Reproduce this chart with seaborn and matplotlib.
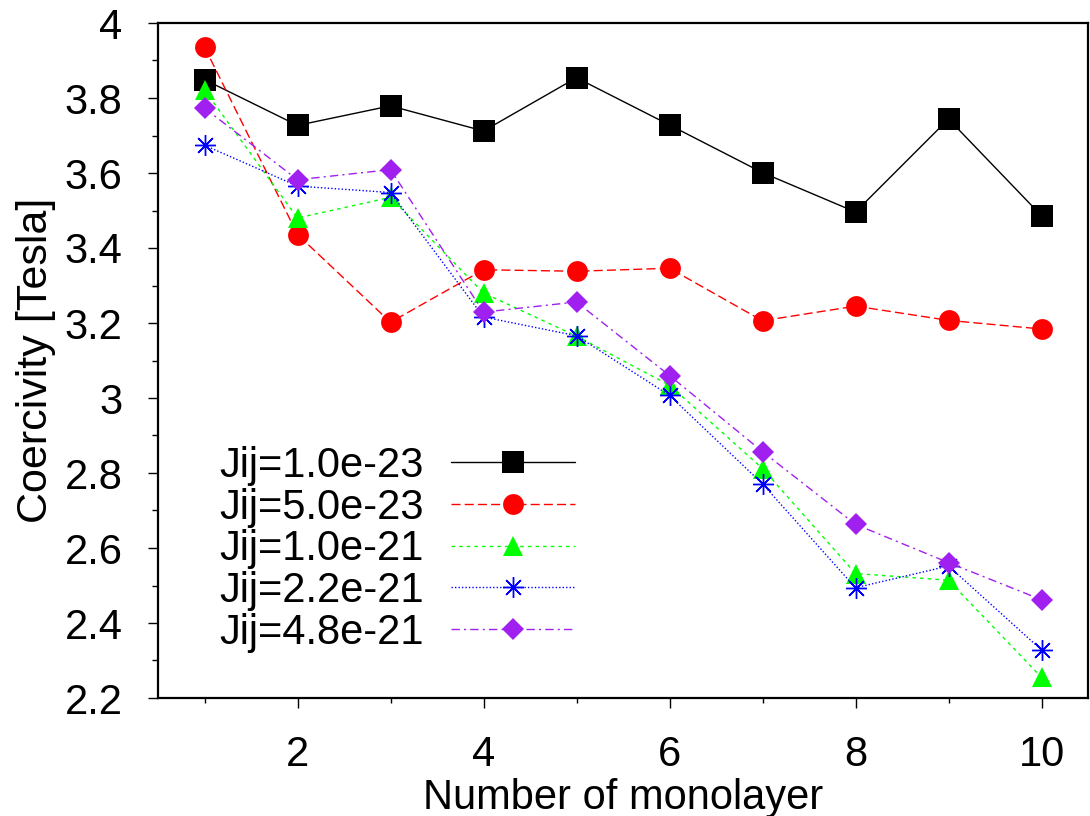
import numpy as np
import pandas as pd
import matplotlib
matplotlib.use("Agg")
import matplotlib.pyplot as plt
from matplotlib.ticker import MultipleLocator, FuncFormatter
import seaborn as sns

# ---- data ----
monolayers = [1, 2, 3, 4, 5, 6, 7, 8, 9, 10]
labels = ["Jij=1.0e-23", "Jij=5.0e-23", "Jij=1.0e-21", "Jij=2.2e-21", "Jij=4.8e-21"]
jij_1_0e23 = [3.849, 3.727, 3.779, 3.712, 3.854, 3.728, 3.601, 3.496, 3.744, 3.486]
jij_5_0e23 = [3.936, 3.436, 3.202, 3.342, 3.338, 3.346, 3.206, 3.245, 3.207, 3.184]
jij_1_0e21 = [3.821, 3.480, 3.535, 3.280, 3.165, 3.034, 2.812, 2.532, 2.514, 2.255]
jij_2_2e21 = [3.674, 3.565, 3.548, 3.216, 3.166, 3.007, 2.771, 2.494, 2.552, 2.328]
jij_4_8e21 = [3.773, 3.582, 3.609, 3.229, 3.256, 3.060, 2.857, 2.663, 2.561, 2.462]
series = [jij_1_0e23, jij_5_0e23, jij_1_0e21, jij_2_2e21, jij_4_8e21]

colors = ["#000000", "#ff0000", "#00ff00", "#0000ff", "#a020f0"]
markers = ["s", "o", "^", (8, 2, 0), "D"]
msizes = [15.5, 15, 14, 15, 11.5]
linestyles = ["-", (0, (6.5, 3)), (0, (2.5, 3)), (0, (1, 1.5)), (0, (6, 3, 1.5, 3))]

sns.set_theme(style="ticks")
plt.rcParams["font.family"] = ["Liberation Sans", "DejaVu Sans"]
for k in ["text.color", "axes.labelcolor", "xtick.color", "ytick.color", "axes.edgecolor"]:
    plt.rcParams[k] = "black"

fig = plt.figure(figsize=(10.9, 8.16), dpi=100)
ax = fig.add_axes([158 / 1090, 1 - 698 / 816, (1088 - 158) / 1090, (698 - 23) / 816])

for vals, lab, c, m, ms, ls in zip(series, labels, colors, markers, msizes, linestyles):
    df = pd.DataFrame({"x": monolayers, "y": vals})
    is_star = isinstance(m, tuple)
    sns.lineplot(data=df, x="x", y="y", ax=ax, sort=False, errorbar=None,
                 color=c, linewidth=1.0, linestyle=ls, marker=m, markersize=ms,
                 markeredgecolor=c, markerfacecolor=c,
                 markeredgewidth=1.0 if is_star else 0.0, label=lab)

ax.set_xlim(0.5, 10.5)
ax.set_ylim(2.2, 4.0)
ax.xaxis.set_major_locator(MultipleLocator(2))
ax.xaxis.set_minor_locator(MultipleLocator(1))
ax.yaxis.set_major_locator(MultipleLocator(0.2))
ax.yaxis.set_minor_locator(MultipleLocator(0.1))
ax.yaxis.set_major_formatter(FuncFormatter(lambda v, p: "%g" % round(v, 2)))

for s in ax.spines.values():
    s.set_visible(True)
    s.set_linewidth(1.6)
    s.set_color("black")

ax.tick_params(which="both", direction="out", top=False, right=False,
               color="black", labelcolor="black", width=1.0)
ax.tick_params(axis="y", which="major", length=7.5, pad=18, labelsize=30)
ax.tick_params(axis="y", which="minor", length=4.5)
ax.tick_params(axis="x", which="major", length=7.5, pad=19, labelsize=30)
ax.tick_params(axis="x", which="minor", length=3.6)

ax.set_xlabel("Number of monolayer", fontsize=30, labelpad=2, color="black")
ax.set_ylabel("Coercivity [Tesla]", fontsize=31, labelpad=6, color="black")

leg = ax.legend(loc="upper left", bbox_to_anchor=(219 / 1090, 1 - 446 / 816),
                bbox_transform=fig.transFigure, frameon=False, fontsize=30,
                markerfirst=False, numpoints=1, handlelength=2.98,
                handletextpad=0.65, labelspacing=0.04, borderpad=0,
                borderaxespad=0)
for t in leg.get_texts():
    t.set_color("black")

fig.savefig("out.png", dpi=100)
